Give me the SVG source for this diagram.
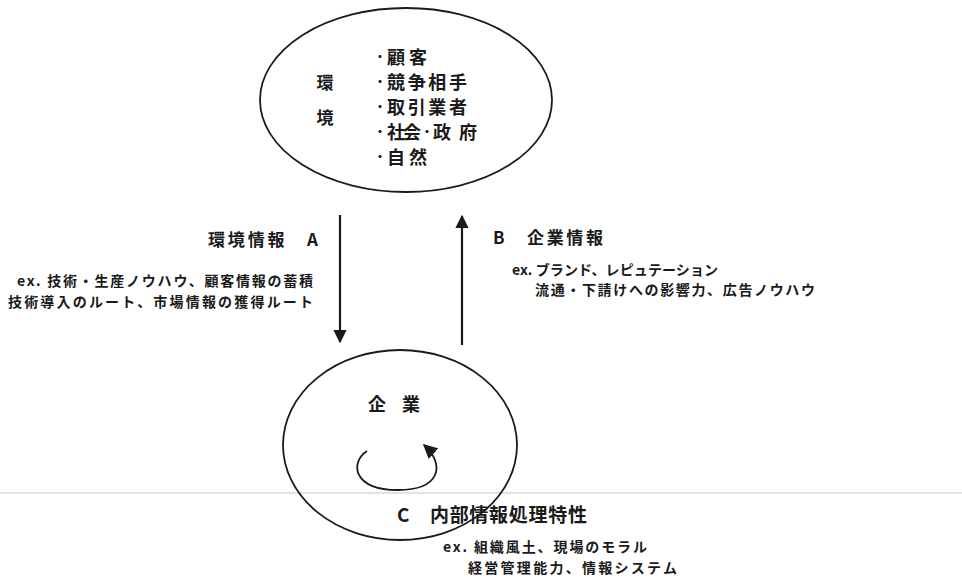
<svg xmlns="http://www.w3.org/2000/svg" width="962" height="579" viewBox="0 0 962 579">
<defs>
<style>
.t{font-family:"Noto Sans CJK JP","Noto Sans CJK SC",sans-serif;fill:#1a1a1a;font-weight:bold}
.it{font-size:18px}
.dot{font-size:12px}
.ex{font-size:14px}
.line{stroke:#1a1a1a;stroke-width:2.2;fill:none}
.shape{stroke:#1a1a1a;stroke-width:1.8;fill:none}
</style>
<marker id="ah" viewBox="0 0 10 10" refX="9" refY="5" markerWidth="6" markerHeight="6" orient="auto" markerUnits="strokeWidth">
<path d="M0,0 L10,5 L0,10 z" fill="#1a1a1a"/>
</marker>
<marker id="ah2" viewBox="0 0 10 10" refX="9" refY="5" markerWidth="8" markerHeight="8" orient="auto" markerUnits="strokeWidth">
<path d="M0,0 L10,5 L0,10 z" fill="#1a1a1a"/>
</marker>
</defs>
<rect width="962" height="579" fill="#ffffff"/>
<rect x="0" y="492" width="962" height="2" fill="#e2e2e2"/>
<g id="environment">
<ellipse class="shape" cx="406" cy="100" rx="146" ry="92"/>
<text class="t" x="325" y="89" font-size="17" text-anchor="middle">環</text>
<text class="t" x="325" y="124" font-size="17" text-anchor="middle">境</text>
<text class="t it" y="64"><tspan class="dot" x="374" dy="-2">・</tspan><tspan x="387" dy="2" textLength="40">顧客</tspan></text>
<text class="t it" y="89"><tspan class="dot" x="374" dy="-2">・</tspan><tspan x="387" dy="2" textLength="80">競争相手</tspan></text>
<text class="t it" y="114"><tspan class="dot" x="374" dy="-2">・</tspan><tspan x="387" dy="2" textLength="80">取引業者</tspan></text>
<text class="t it" y="139"><tspan class="dot" x="374" dy="-2">・</tspan><tspan x="387" dy="2" textLength="34">社会</tspan><tspan class="dot" x="421" dy="-2">・</tspan><tspan x="433" dy="2" textLength="44">政府</tspan></text>
<text class="t it" y="164"><tspan class="dot" x="374" dy="-2">・</tspan><tspan x="387" dy="2" textLength="40">自然</tspan></text>
</g>
<g id="company">
<ellipse class="shape" cx="400" cy="445" rx="117" ry="95"/>
<text class="t" x="368" y="411" font-size="18" textLength="52">企業</text>
</g>
<g id="connectors">
<line class="line" x1="340" y1="215" x2="340" y2="342" marker-end="url(#ah)"/>
<line class="line" x1="462" y1="345" x2="462" y2="216" marker-end="url(#ah)"/>
<path class="shape" d="M367,451 C350,462 352,490 398,490 C440,490 446,465 424,445" marker-end="url(#ah2)"/>
</g>
<g id="label-a">
<text class="t" x="208" y="246" font-size="17" textLength="110">環境情報　A</text>
<text class="t ex" x="17" y="286" textLength="296">ex. 技術・生産ノウハウ、顧客情報の蓄積</text>
<text class="t ex" x="8" y="307" textLength="305">技術導入のルート、市場情報の獲得ルート</text>
</g>
<g id="label-b">
<text class="t" x="493" y="244" font-size="17" textLength="110">B　企業情報</text>
<text class="t ex" x="512" y="275" textLength="206">ex. ブランド、レピュテーション</text>
<text class="t ex" x="535" y="295" textLength="280">流通・下請けへの影響力、広告ノウハウ</text>
</g>
<g id="label-c">
<text class="t" x="397" y="522" font-size="19" textLength="190">C　内部情報処理特性</text>
<text class="t ex" x="443" y="552" textLength="204">ex. 組織風土、現場のモラル</text>
<text class="t ex" x="468" y="573" textLength="209">経営管理能力、情報システム</text>
</g>
</svg>
